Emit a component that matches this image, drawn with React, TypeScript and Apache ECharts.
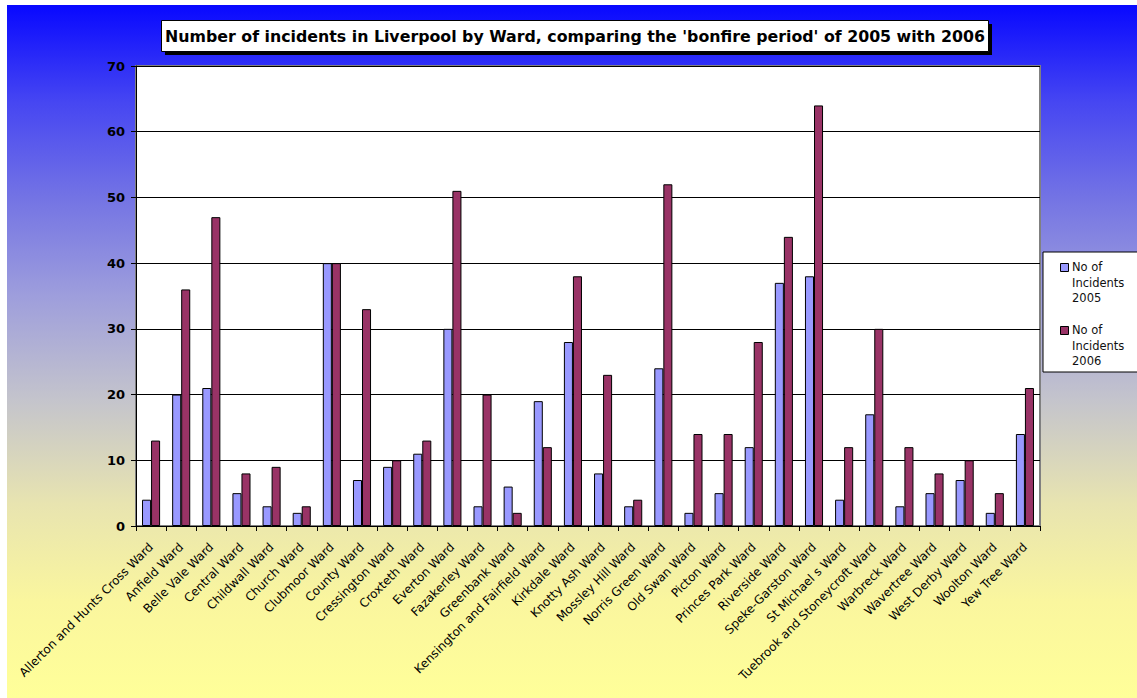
import React, { useEffect, useRef } from "react";
import * as echarts from "echarts";

const wards = [
  "Allerton and Hunts Cross Ward",
  "Anfield Ward",
  "Belle Vale Ward",
  "Central Ward",
  "Childwall Ward",
  "Church Ward",
  "Clubmoor Ward",
  "County Ward",
  "Cressington Ward",
  "Croxteth Ward",
  "Everton Ward",
  "Fazakerley Ward",
  "Greenbank Ward",
  "Kensington and Fairfield Ward",
  "Kirkdale Ward",
  "Knotty Ash Ward",
  "Mossley Hill Ward",
  "Norris Green Ward",
  "Old Swan Ward",
  "Picton Ward",
  "Princes Park Ward",
  "Riverside Ward",
  "Speke-Garston Ward",
  "St Michael s Ward",
  "Tuebrook and Stoneycroft Ward",
  "Warbreck Ward",
  "Wavertree Ward",
  "West Derby Ward",
  "Woolton Ward",
  "Yew Tree Ward",
];

const incidents2005 = [4, 20, 21, 5, 3, 2, 40, 7, 9, 11, 30, 3, 6, 19, 28, 8, 3, 24, 2, 5, 12, 37, 38, 4, 17, 3, 5, 7, 2, 14];
const incidents2006 = [13, 36, 47, 8, 9, 3, 40, 33, 10, 13, 51, 20, 2, 12, 38, 23, 4, 52, 14, 14, 28, 44, 64, 12, 30, 12, 8, 10, 5, 21];

const seriesNames = ["No of Incidents 2005", "No of Incidents 2006"];
const legendLabels = ["No of\nIncidents\n2005", "No of\nIncidents\n2006"];
const seriesColors = ["#9999ff", "#993366"];
const yMin = 0;
const yMax = 70;
const yInterval = 10;
const titleText = "Number of incidents in Liverpool by Ward, comparing the 'bonfire period' of 2005 with 2006";

const FONT = "DejaVu Sans";

export default function App() {
  const ref = useRef<HTMLDivElement>(null);

  useEffect(() => {
    document.body.style.margin = "0";
    if (!ref.current) return;
    const chart = echarts.init(ref.current, undefined, { renderer: "svg" });

    const legendGraphics: any[] = [
      {
        type: "rect",
        z: 10,
        shape: { x: 1043, y: 252, width: 120, height: 120 },
        style: { fill: "#ffffff", stroke: "#000000", lineWidth: 1 },
      },
    ];
    const legendTops = [263, 326];
    seriesNames.forEach((_, i) => {
      legendGraphics.push({
        type: "rect",
        z: 11,
        shape: { x: 1060.5, y: legendTops[i] + 0.5, width: 8, height: 8 },
        style: { fill: seriesColors[i], stroke: "#000000", lineWidth: 1 },
      });
      legendGraphics.push({
        type: "text",
        z: 11,
        x: 1072,
        y: legendTops[i] - 3.5,
        style: {
          text: legendLabels[i],
          font: `11.5px "${FONT}"`,
          fill: "#111111",
          lineHeight: 15.5,
          textAlign: "left",
          textVerticalAlign: "top",
        },
      });
    });

    const option: any = {
      animation: false,
      legend: { show: false },
      graphic: [
        {
          type: "rect",
          z: 10,
          shape: { x: 165, y: 24, width: 827, height: 31 },
          style: { fill: "#000000" },
        },
        {
          type: "rect",
          z: 11,
          shape: { x: 161.5, y: 20.5, width: 827, height: 31 },
          style: { fill: "#ffffff", stroke: "#000000", lineWidth: 1 },
        },
        {
          type: "text",
          z: 12,
          x: 575,
          y: 36.5,
          style: {
            text: titleText,
            font: `bold 15.8px "${FONT}"`,
            fill: "#000000",
            textAlign: "center",
            textVerticalAlign: "middle",
          },
        },
        ...legendGraphics,
      ],
      grid: {
        left: 136,
        right: 97,
        top: 66,
        bottom: 172,
        show: true,
        backgroundColor: "#ffffff",
        borderColor: "#808080",
        borderWidth: 2,
        containLabel: false,
      },
      xAxis: {
        type: "category",
        data: wards,
        axisLine: { show: true, lineStyle: { color: "#000000", width: 1 } },
        axisTick: { show: true, length: 5, alignWithLabel: false, interval: 0, lineStyle: { color: "#000000" } },
        axisLabel: {
          interval: 0,
          rotate: 45,
          margin: 19,
          fontSize: 12,
          fontFamily: FONT,
          color: "#000000",
        },
        splitLine: { show: false },
      },
      yAxis: {
        type: "value",
        min: yMin,
        max: yMax,
        interval: yInterval,
        axisLine: { show: true, lineStyle: { color: "#000000", width: 1 } },
        axisTick: { show: true, length: 5, lineStyle: { color: "#000000" } },
        axisLabel: {
          margin: 11,
          fontSize: 13,
          fontWeight: "bold",
          fontFamily: FONT,
          color: "#000000",
        },
        splitLine: { show: true, lineStyle: { color: "#000000", width: 1 } },
      },
      series: [
        {
          name: seriesNames[0],
          type: "bar",
          data: incidents2005,
          barGap: "0%",
          barCategoryGap: "40%",
          itemStyle: { color: seriesColors[0], borderColor: "#000000", borderWidth: 1 },
        },
        {
          name: seriesNames[1],
          type: "bar",
          data: incidents2006,
          barGap: "0%",
          barCategoryGap: "40%",
          itemStyle: { color: seriesColors[1], borderColor: "#000000", borderWidth: 1 },
        },
      ],
    };

    chart.setOption(option);
    return () => {
      chart.dispose();
    };
  }, []);

  return (
    <div style={{ position: "relative", width: 1137, height: 698, background: "#ffffff", overflow: "hidden" }}>
      <div
        style={{
          position: "absolute",
          left: 7,
          top: 5,
          right: 0,
          bottom: 0,
          background:
            "linear-gradient(to bottom, #0808ff 0%, #4646f2 14%, #7474e4 28%, #9e9edc 42%, #c4c4cc 57%, #e8e4b0 72%, #faf69e 86%, #ffff99 100%)",
        }}
      />
      <div ref={ref} style={{ position: "absolute", left: 0, top: 0, width: 1137, height: 698 }} />
    </div>
  );
}
